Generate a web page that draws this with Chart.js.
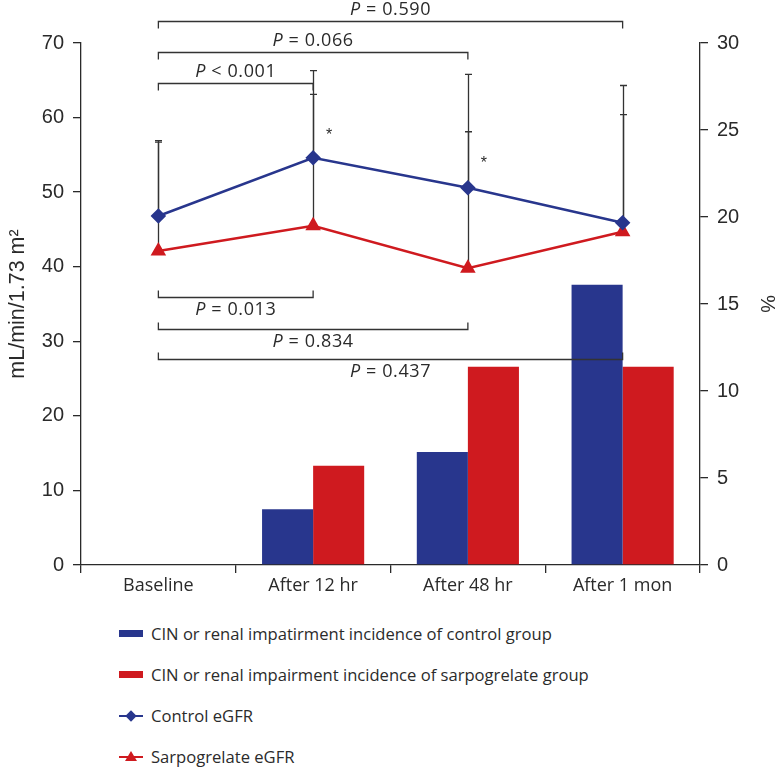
<!DOCTYPE html>
<html lang="en">
<head>
<meta charset="UTF-8">
<title>eGFR and CIN incidence</title>
<script src="https://cdn.jsdelivr.net/npm/chart.js"></script>
<style>
    body { margin: 0; background: #fff; font-family: "Open Sans", sans-serif; }
    #wrap { width: 779px; height: 605px; }
    #legend { list-style: none; margin: 0; padding: 8px 0 0 119px; }
    #legend li { display: flex; align-items: center; height: 41px; font-size: 16.6px; color: #2b2b2b; }
    .mark { position: relative; width: 24px; height: 12px; margin-right: 8px; flex: none; }
    .bar { position: absolute; left: 0; top: 2.5px; width: 24px; height: 7px; }
    .line { position: absolute; left: 0; top: 5px; width: 24px; height: 2.5px; }
    .diamond { position: absolute; left: 8px; top: 2px; width: 8px; height: 8px; transform: rotate(45deg); }
    .triangle { position: absolute; left: 6px; top: 0; width: 0; height: 0;
                border-left: 6px solid transparent; border-right: 6px solid transparent; border-bottom: 10px solid; }
</style>
</head>
<body>
<div id="wrap"><canvas id="chart" width="779" height="605"></canvas></div>
<ul id="legend"></ul>

<script>
    const categories = ['Baseline', 'After 12 hr', 'After 48 hr', 'After 1 mon'];

    // incidence (%), right axis
    const controlIncidence = [0, 3.2, 6.5, 16.1];
    const sarpoIncidence = [0, 5.7, 11.4, 11.4];

    // eGFR (mL/min/1.73 m2), left axis, with the top of each error bar
    const controlEgfr = [46.8, 54.6, 50.6, 45.9];
    const controlUpper = [56.9, 63.1, 58.1, 60.4];
    const sarpoEgfr = [42.1, 45.5, 39.8, 44.7];
    const sarpoUpper = [56.7, 66.3, 65.8, 64.3];

    // comparison brackets (category indices and height on the left axis)
    const topBrackets = [
        { from: 0, to: 3, level: 73.0, text: ' = 0.590' },
        { from: 0, to: 2, level: 68.8, text: ' = 0.066' },
        { from: 0, to: 1, level: 64.6, text: ' < 0.001' }
    ];
    const bottomBrackets = [
        { from: 0, to: 1, level: 35.9, text: ' = 0.013' },
        { from: 0, to: 2, level: 31.7, text: ' = 0.834' },
        { from: 0, to: 3, level: 27.6, text: ' = 0.437' }
    ];
    const starMarks = [{ at: 1, level: 58.1 }, { at: 2, level: 54.3 }];

    const BLUE = '#28368d', RED = '#cf1a1f', INK = '#2a2a2a';
    const tickFont = { family: '"Liberation Sans", Arial, sans-serif', size: 20 };

    function drawP(ctx, cx, cy, rest) {
        ctx.letterSpacing = '0.6px';
        ctx.font = 'italic 18px "Open Sans"';
        const wP = ctx.measureText('P').width;
        ctx.font = '18px "Open Sans"';
        const wR = ctx.measureText(rest).width;
        let x0 = cx - (wP + wR) / 2;
        ctx.textAlign = 'left';
        ctx.textBaseline = 'middle';
        ctx.font = 'italic 18px "Open Sans"';
        ctx.fillText('P', x0, cy);
        ctx.font = '18px "Open Sans"';
        ctx.fillText(rest, x0 + wP, cy);
        ctx.letterSpacing = '0px';
    }

    const extras = {
        id: 'extras',
        beforeDatasetsDraw(chart) {
            const { ctx, scales: { x, y } } = chart;
            ctx.save();
            ctx.strokeStyle = '#333';
            ctx.lineWidth = 1.3;
            [[controlEgfr, controlUpper], [sarpoEgfr, sarpoUpper]].forEach(([mean, upper]) => {
                mean.forEach((m, i) => {
                    const px = Math.round(x.getPixelForValue(i)) + 0.5;
                    const y0 = y.getPixelForValue(m), y1 = y.getPixelForValue(upper[i]);
                    ctx.beginPath();
                    ctx.moveTo(px, y0); ctx.lineTo(px, y1);
                    ctx.moveTo(px - 3.5, y1); ctx.lineTo(px + 3.5, y1);
                    ctx.stroke();
                });
            });
            ctx.restore();
        },
        afterDatasetsDraw(chart) {
            const { ctx, scales: { x, y } } = chart;
            ctx.save();
            ctx.strokeStyle = '#333';
            ctx.fillStyle = INK;
            ctx.lineWidth = 1.3;
            const bracket = (b, dir) => {
                const x1 = x.getPixelForValue(b.from), x2 = x.getPixelForValue(b.to);
                const py = Math.round(y.getPixelForValue(b.level)) + 0.5;
                ctx.beginPath();
                ctx.moveTo(x1, py + dir * 7); ctx.lineTo(x1, py);
                ctx.lineTo(x2, py); ctx.lineTo(x2, py + dir * 7);
                ctx.stroke();
                drawP(ctx, (x1 + x2) / 2, py - dir * 12, b.text);
            };
            topBrackets.forEach(b => bracket(b, 1));
            bottomBrackets.forEach(b => bracket(b, -1));
            ctx.font = '16px "Liberation Sans"';
            ctx.textAlign = 'center';
            starMarks.forEach(s => {
                ctx.fillText('*', x.getPixelForValue(s.at) + 16, y.getPixelForValue(s.level) + 4);
            });
            ctx.restore();
        }
    };

    const chart = new Chart(document.getElementById('chart'), {
        data: {
            labels: categories,
            datasets: [
                { type: 'bar', label: 'CIN or renal impatirment incidence of control group', data: controlIncidence,
                  yAxisID: 'y1', backgroundColor: BLUE, categoryPercentage: 0.66, barPercentage: 1, order: 2 },
                { type: 'bar', label: 'CIN or renal impairment incidence of sarpogrelate group', data: sarpoIncidence,
                  yAxisID: 'y1', backgroundColor: RED, categoryPercentage: 0.66, barPercentage: 1, order: 2 },
                { type: 'line', label: 'Control eGFR', data: controlEgfr, yAxisID: 'y', borderColor: BLUE,
                  backgroundColor: BLUE, borderWidth: 2.5, pointStyle: 'rectRot', pointRadius: 6, order: 0 },
                { type: 'line', label: 'Sarpogrelate eGFR', data: sarpoEgfr, yAxisID: 'y', borderColor: RED,
                  backgroundColor: RED, borderWidth: 2.5, pointStyle: 'triangle', pointRadius: 6.5, order: 1 }
            ]
        },
        options: {
            responsive: false,
            animation: false,
            layout: { padding: { top: 43 } },
            plugins: { legend: { display: false }, tooltip: { enabled: false } },
            scales: {
                x: {
                    offset: true,
                    grid: { offset: true, drawOnChartArea: false, tickLength: 8, color: INK, lineWidth: 1.3 },
                    border: { color: INK, width: 1.3 },
                    ticks: { color: INK, padding: 2, font: { family: '"Open Sans"', size: 18 } },
                    afterFit: s => { s.height = 40; }
                },
                y: {
                    position: 'left', min: 0, max: 70,
                    ticks: { stepSize: 10, color: INK, padding: 9, font: tickFont },
                    grid: { drawOnChartArea: false, tickLength: 8, color: INK, lineWidth: 1.3 },
                    border: { color: INK, width: 1.3 },
                    title: { display: true, text: 'mL/min/1.73 m²', color: INK, padding: { top: 5 },
                             font: { family: '"Liberation Sans"', size: 21.5 } },
                    afterFit: s => { s.width = 81; }
                },
                y1: {
                    position: 'right', min: 0, max: 30,
                    ticks: { stepSize: 5, color: INK, padding: 9, font: tickFont },
                    grid: { drawOnChartArea: false, tickLength: 8, color: INK, lineWidth: 1.3 },
                    border: { color: INK, width: 1.3 },
                    title: { display: true, text: '%', color: INK, padding: { top: 0 },
                             font: { family: '"Liberation Sans"', size: 20 } },
                    afterFit: s => { s.width = 79; }
                }
            }
        },
        plugins: [extras]
    });

    // html legend built from the datasets
    const legend = document.getElementById('legend');
    chart.data.datasets.forEach(ds => {
        const li = document.createElement('li');
        const mark = document.createElement('span');
        mark.className = 'mark';
        if (ds.type === 'bar') {
            mark.innerHTML = `<span class="bar" style="background:${ds.backgroundColor}"></span>`;
        } else {
            const shape = ds.pointStyle === 'rectRot'
                ? `<span class="diamond" style="background:${ds.borderColor}"></span>`
                : `<span class="triangle" style="color:${ds.borderColor}"></span>`;
            mark.innerHTML = `<span class="line" style="background:${ds.borderColor}"></span>${shape}`;
        }
        li.appendChild(mark);
        li.appendChild(document.createTextNode(ds.label));
        legend.appendChild(li);
    });
</script>
</body>
</html>
